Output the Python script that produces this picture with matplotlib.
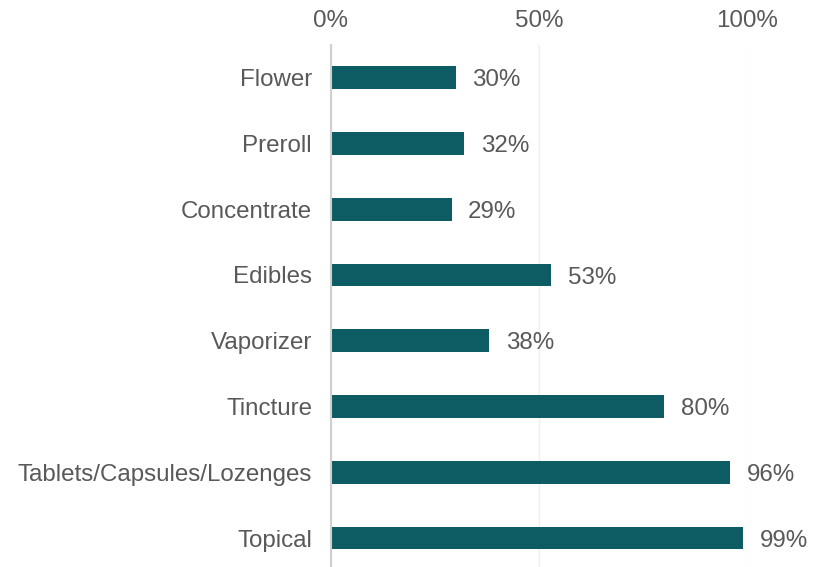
import matplotlib
matplotlib.use("Agg")
import matplotlib.pyplot as plt
from matplotlib.ticker import FuncFormatter

categories = ["Flower", "Preroll", "Concentrate", "Edibles", "Vaporizer",
              "Tincture", "Tablets/Capsules/Lozenges", "Topical"]
values = [30, 32, 29, 53, 38, 80, 96, 99]
xticks = [0, 50, 100]

plt.rcParams['font.family'] = ['Liberation Sans', 'DejaVu Sans']
text_color = '#595959'
bar_color = '#0d5c63'
fs = 17.4

fig = plt.figure(figsize=(8.21, 5.67), dpi=100)
ax = fig.add_axes([0.403, -0.007, 0.507, 0.928])

y = list(range(len(categories)))
ax.barh(y, values, height=0.345, color=bar_color, zorder=3)
ax.set_ylim(len(categories) - 0.5, -0.5)
ax.set_xlim(0, 100)
ax.set_yticks(y)
ax.set_yticklabels(categories, fontsize=fs, color=text_color)
ax.set_xticks(xticks)
ax.xaxis.set_major_formatter(FuncFormatter(lambda v, p: f"{v:.0f}%"))
ax.xaxis.tick_top()
ax.tick_params(axis='x', labelsize=fs, labelcolor=text_color, length=0, pad=9)
ax.tick_params(axis='y', length=0, pad=13.5)
ax.grid(axis='x', color='#efefef', linewidth=1, zorder=0)
for s in ['top', 'right', 'bottom']:
    ax.spines[s].set_visible(False)
ax.spines['left'].set_color('#d0d0d0')
ax.spines['left'].set_linewidth(1.5)
ax.spines['left'].set_zorder(4)

for yi, v in zip(y, values):
    ax.text(v + 4.0, yi + 0.04, f"{v}%", va='center', ha='left',
            fontsize=fs, color=text_color)

fig.savefig("out.png", dpi=100)
